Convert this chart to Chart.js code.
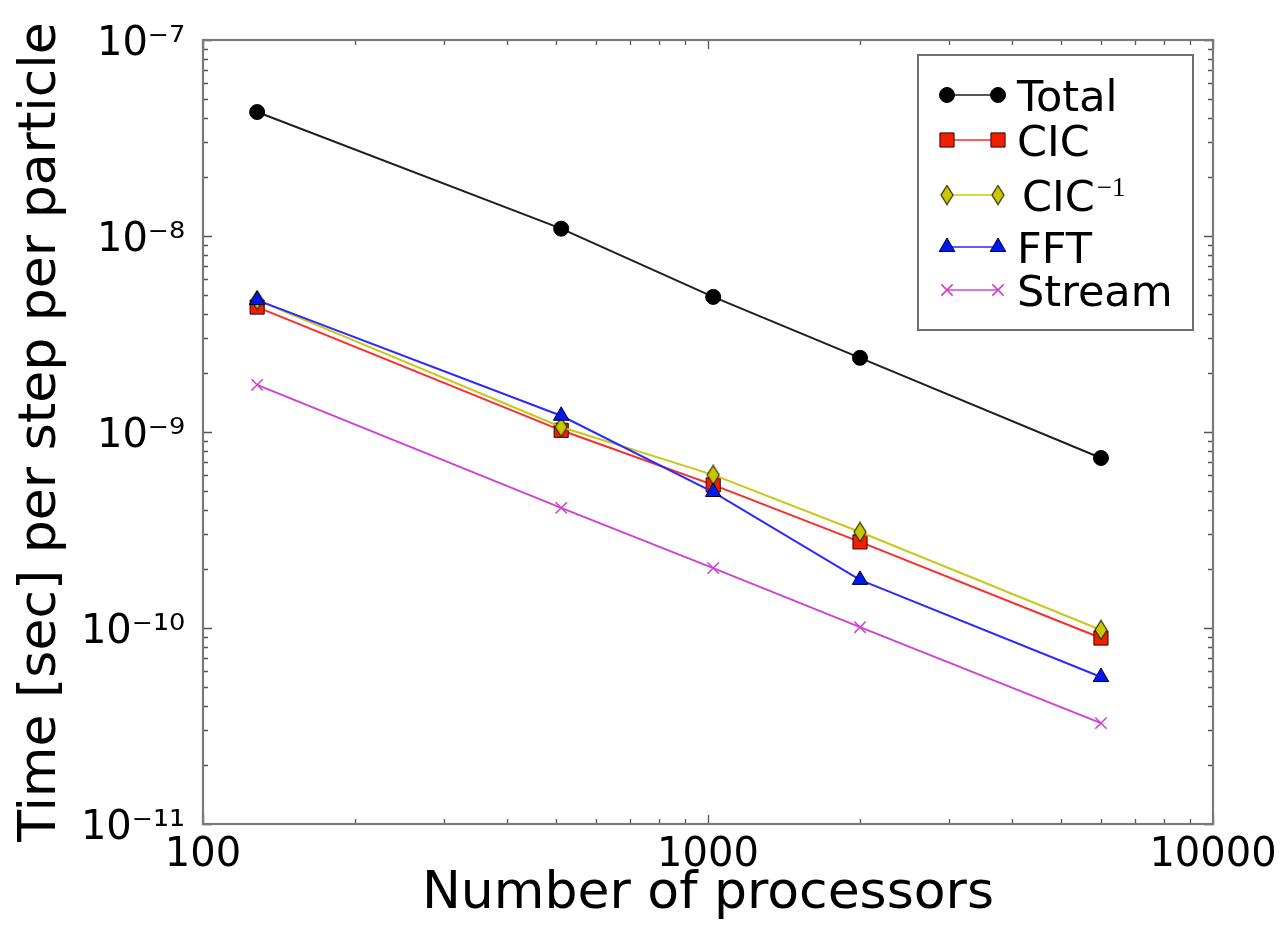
<!DOCTYPE html>
<html><head><meta charset="utf-8">
<script src="https://cdn.jsdelivr.net/npm/chart.js@4/dist/chart.umd.min.js"></script>
<style>html,body{margin:0;padding:0;background:#fff}#wrap{width:1283px;height:928px;position:relative}</style>
</head><body><div id="wrap"><canvas id="c" width="1283" height="928"></canvas></div>
<script>
const processors = [128, 512, 1024, 2000, 6000];
const total  = [4.29e-8, 1.09e-8, 4.89e-9, 2.39e-9, 7.37e-10];
const cic    = [4.34e-9, 1.02e-9, 5.37e-10, 2.75e-10, 8.89e-11];
const cicInv = [4.71e-9, 1.06e-9, 6.04e-10, 3.09e-10, 9.77e-11];
const fft    = [4.71e-9, 1.21e-9, 4.94e-10, 1.76e-10, 5.62e-11];
const stream = [1.74e-9, 4.10e-10, 2.02e-10, 1.01e-10, 3.27e-11];
const seriesNames = ['Total', 'CIC', 'CIC', 'FFT', 'Stream'];
const xTicks = [100, 1000, 10000];
const xTickLabels = ['100', '1000', '10000'];
const yTicks = [1e-11, 1e-10, 1e-9, 1e-8, 1e-7];
const yTickLabels = ['10\u207B\u00B9\u00B9', '10\u207B\u00B9\u2070', '10\u207B\u2079', '10\u207B\u2078', '10\u207B\u2077'];

function pts(arr){ return processors.map((p,i)=>({x:p, y:arr[i]})); }

// thin diamond marker image
const diamond = document.createElement('canvas');
diamond.width = 14; diamond.height = 21;
(function(){
  const g = diamond.getContext('2d');
  g.beginPath(); g.moveTo(7,1); g.lineTo(13,10.5); g.lineTo(7,20); g.lineTo(1,10.5); g.closePath();
  g.fillStyle = '#c8c800'; g.fill();
  g.lineWidth = 1.2; g.strokeStyle = '#2a2a00'; g.stroke();
})();

const datasets = [
  {label:'Total', data:pts(total), borderColor:'#1e1e1e', borderWidth:2,
   pointStyle:'circle', pointRadius:7.5, pointBackgroundColor:'#000', pointBorderColor:'#000', pointBorderWidth:1, order:5},
  {label:'CIC', data:pts(cic), borderColor:'#ff2a2a', borderWidth:2,
   pointStyle:'rect', pointRadius:10, pointBackgroundColor:'#ee2200', pointBorderColor:'#3a0000', pointBorderWidth:1, order:4},
  {label:'CIC-1', data:pts(cicInv), borderColor:'#c8c818', borderWidth:2,
   pointStyle:diamond, pointRadius:8, pointBackgroundColor:'#c8c800', pointBorderColor:'#2a2a00', pointBorderWidth:1, order:3},
  {label:'FFT', data:pts(fft), borderColor:'#2a2aff', borderWidth:2,
   pointStyle:'triangle', pointRadius:9, pointBackgroundColor:'#0018ee', pointBorderColor:'#000028', pointBorderWidth:1, order:2},
  {label:'Stream', data:pts(stream), borderColor:'#cf44cf', borderWidth:2,
   pointStyle:'crossRot', pointRadius:8, pointBackgroundColor:'#cf44cf', pointBorderColor:'#cf44cf', pointBorderWidth:1.6, order:1}
];
datasets.forEach(d=>{ d.fill=false; d.tension=0; });

function drawMarker(ctx, ds, x, y){
  const st = ds.pointStyle, r = ds.pointRadius;
  ctx.save();
  ctx.fillStyle = ds.pointBackgroundColor; ctx.strokeStyle = ds.pointBorderColor; ctx.lineWidth = ds.pointBorderWidth;
  if (typeof st === 'object') { ctx.drawImage(st, x - st.width/2, y - st.height/2); ctx.restore(); return; }
  ctx.beginPath();
  if (st === 'circle') { ctx.arc(x, y, r, 0, Math.PI*2); ctx.fill(); ctx.stroke(); }
  else if (st === 'rect') { const s = r*Math.SQRT1_2; ctx.rect(x-s, y-s, 2*s, 2*s); ctx.fill(); ctx.stroke(); }
  else if (st === 'triangle') {
    for (let k=0;k<3;k++){ const a = k*2*Math.PI/3; const px = x + Math.sin(a)*r, py = y - Math.cos(a)*r; k?ctx.lineTo(px,py):ctx.moveTo(px,py); }
    ctx.closePath(); ctx.fill(); ctx.stroke();
  } else if (st === 'crossRot') {
    const s = r*Math.SQRT1_2; ctx.moveTo(x-s,y-s); ctx.lineTo(x+s,y+s); ctx.moveTo(x+s,y-s); ctx.lineTo(x-s,y+s); ctx.stroke();
  }
  ctx.restore();
}

const framePlugin = {
  id:'frame',
  afterDatasetsDraw(chart){
    const {ctx, chartArea:a, scales:{x, y}} = chart;
    ctx.save();
    ctx.strokeStyle = '#555'; ctx.lineWidth = 1.3;
    for (let d = 100; d <= 10000; d *= 10) {
      for (let m = 1; m <= 9; m++) {
        const v = d*m; if (v > 10000) break;
        const px = Math.round(x.getPixelForValue(v)) + 0.5;
        const len = m === 1 ? 9 : 5;
        ctx.beginPath(); ctx.moveTo(px, a.bottom); ctx.lineTo(px, a.bottom - len);
        ctx.moveTo(px, a.top); ctx.lineTo(px, a.top + len); ctx.stroke();
      }
    }
    for (let e = -11; e <= -7; e++) {
      for (let m = 1; m <= 9; m++) {
        const v = m*Math.pow(10, e); if (e === -7 && m > 1) break;
        const py = Math.round(y.getPixelForValue(v)) + 0.5;
        const len = m === 1 ? 9 : 5;
        ctx.beginPath(); ctx.moveTo(a.left, py); ctx.lineTo(a.left + len, py);
        ctx.moveTo(a.right, py); ctx.lineTo(a.right - len, py); ctx.stroke();
      }
    }
    ctx.strokeStyle = '#7a7a7a'; ctx.lineWidth = 2.2;
    ctx.strokeRect(a.left, a.top, a.right - a.left, a.bottom - a.top);
    ctx.restore();
  },
  afterDraw(chart){
    const ctx = chart.ctx;
    const box = {l:918, t:55, r:1193, b:330};
    ctx.save();
    ctx.fillStyle = '#fff'; ctx.fillRect(box.l, box.t, box.r-box.l, box.b-box.t);
    ctx.strokeStyle = '#6e6e6e'; ctx.lineWidth = 2;
    ctx.strokeRect(box.l, box.t, box.r-box.l, box.b-box.t);
    const rows = [95, 140, 195, 247, 290];
    const fs = 43;
    chart.data.datasets.forEach((ds, i) => {
      const yy = rows[i];
      ctx.strokeStyle = ds.borderColor; ctx.lineWidth = 1.6;
      ctx.beginPath(); ctx.moveTo(947, yy); ctx.lineTo(998, yy); ctx.stroke();
      drawMarker(ctx, ds, 947, yy); drawMarker(ctx, ds, 998, yy);
      ctx.fillStyle = '#000'; ctx.textBaseline = 'alphabetic'; ctx.textAlign = 'left';
      ctx.font = fs + 'px "DejaVu Sans"';
      const base = yy + 0.729*fs/2;
      if (i === 2) {
        ctx.fillText(seriesNames[i], 1022, base);
        const w = ctx.measureText(seriesNames[i]).width;
        ctx.font = '27px "Liberation Serif"';
        ctx.fillText('\u22121', 1022 + w + 2, base - 15);
      } else {
        ctx.fillText(seriesNames[i], 1017, base);
      }
    });
    ctx.restore();
  }
};

new Chart(document.getElementById('c'), {
  type:'line',
  data:{datasets},
  plugins:[framePlugin],
  options:{
    responsive:false, animation:false, devicePixelRatio:1,
    layout:{padding:{left:0, right:70, top:40, bottom:0}},
    plugins:{legend:{display:false}, tooltip:{enabled:false}},
    scales:{
      x:{type:'logarithmic', min:100, max:10000, position:'bottom',
        grid:{display:false}, border:{display:false},
        afterBuildTicks:s=>{ s.ticks = xTicks.map(v=>({value:v})); },
        afterFit:s=>{ s.height = 104; s.paddingLeft = 0; s.paddingRight = 0; },
        ticks:{autoSkip:false, maxRotation:0, color:'#000', padding:0,
          font:{family:'DejaVu Sans', size:40},
          callback:(v)=>{ const i = xTicks.indexOf(v); return i >= 0 ? xTickLabels[i] : ''; }},
        title:{display:true, text:'Number of processors', color:'#000',
          font:{family:'DejaVu Sans', size:52}, padding:{top:0, bottom:2}}
      },
      y:{type:'logarithmic', min:1e-11, max:1e-7, position:'left',
        grid:{display:false}, border:{display:false},
        afterBuildTicks:s=>{ s.ticks = yTicks.map(v=>({value:v})); },
        afterFit:s=>{ s.width = 203; s.paddingTop = 0; s.paddingBottom = 0; },
        ticks:{autoSkip:false, color:'#000', padding:10, labelOffset:5,
          font:{family:'DejaVu Sans', size:40},
          callback:(v)=>{ const i = yTicks.indexOf(v); return i >= 0 ? yTickLabels[i] : ''; }},
        title:{display:true, text:'Time [sec] per step per particle', color:'#000',
          font:{family:'DejaVu Sans', size:52}, padding:{top:10, bottom:0}}
      }
    }
  }
});
</script></body></html>
